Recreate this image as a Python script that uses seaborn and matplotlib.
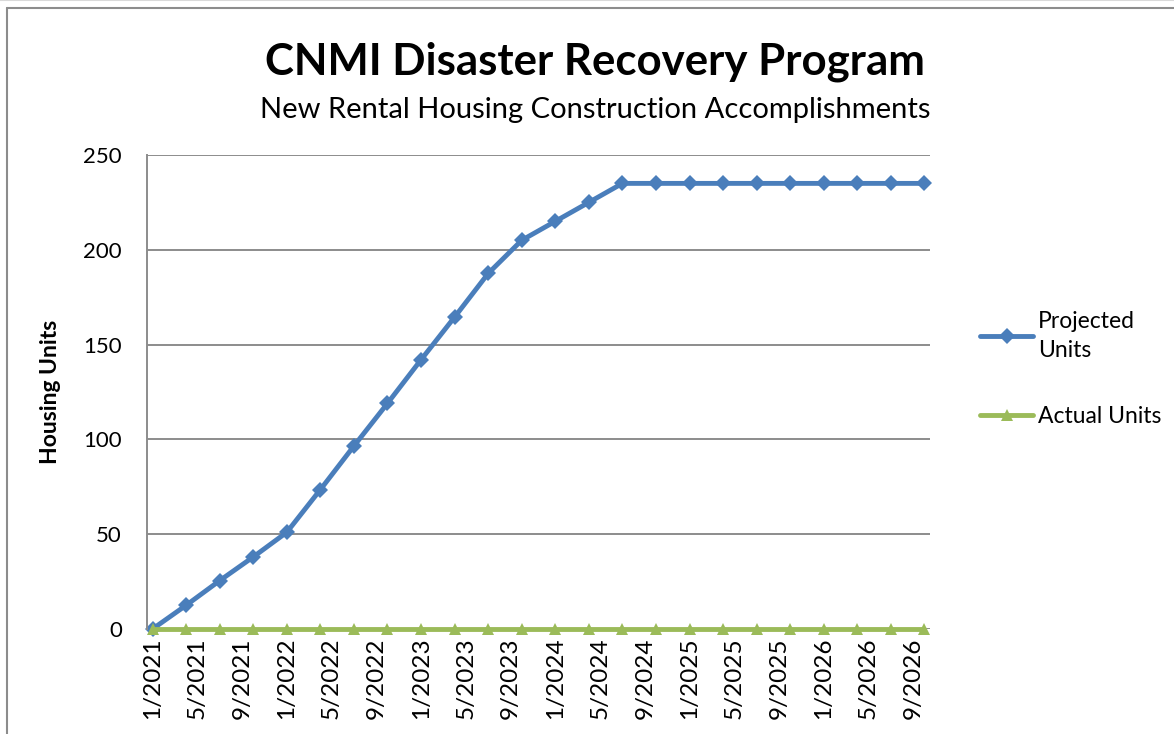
import numpy as np
import pandas as pd
import seaborn as sns
import matplotlib.pyplot as plt
from matplotlib.lines import Line2D

# quarterly observations, month index counted from 1/2021
months = list(range(0, 70, 3))
projected = [0, 12.5, 25.5, 38, 51, 73.5, 96.5, 119, 142, 164.5, 187.5, 205,
             215, 225, 235, 235, 235, 235, 235, 235, 235, 235, 235, 235]
actual = [0] * 24

tick_pos = list(range(0, 69, 4))
tick_labels = ['1/2021', '5/2021', '9/2021', '1/2022', '5/2022', '9/2022',
               '1/2023', '5/2023', '9/2023', '1/2024', '5/2024', '9/2024',
               '1/2025', '5/2025', '9/2025', '1/2026', '5/2026', '9/2026']

df = pd.concat([
    pd.DataFrame({'Month': months, 'Units': projected, 'Series': 'Projected\nUnits'}),
    pd.DataFrame({'Month': months, 'Units': actual, 'Series': 'Actual Units'}),
], ignore_index=True)

sns.set_theme(style='white')
plt.rcParams['font.family'] = ['Lato', 'DejaVu Sans']
plt.rcParams['text.color'] = 'black'
plt.rcParams['xtick.color'] = 'black'
plt.rcParams['ytick.color'] = 'black'
plt.rcParams['axes.labelcolor'] = 'black'

fig = plt.figure(figsize=(11.74, 7.34), dpi=100)
ax = fig.add_axes([0.1252, 0.1431, 0.667, 0.6458])

colors = {'Projected\nUnits': '#4A7EBB', 'Actual Units': '#9BBB59'}
sns.lineplot(data=df, x='Month', y='Units', hue='Series', style='Series',
             palette=colors, markers={'Projected\nUnits': 'D', 'Actual Units': '^'},
             dashes=False, linewidth=3.5, markersize=8, markeredgewidth=0,
             ax=ax, legend=False, clip_on=False)

ax.set_xlim(-0.5, 69.5)
ax.set_ylim(0, 250)
ax.set_yticks([0, 50, 100, 150, 200, 250])
ax.set_xticks(tick_pos)
ax.set_xticklabels(tick_labels, rotation=90)
ax.tick_params(axis='x', labelsize=17.5, pad=6, length=0)
ax.tick_params(axis='y', labelsize=16, pad=18, length=0)
ax.yaxis.grid(True, color='#8c8c8c', linewidth=1.4)
ax.set_axisbelow(True)
for side in ['top', 'right', 'bottom']:
    ax.spines[side].set_visible(False)
ax.spines['left'].set_color('#8c8c8c')
ax.spines['left'].set_linewidth(1.4)

ax.set_xlabel('')
ax.set_ylabel('Housing Units', fontsize=16.5, fontweight='bold', labelpad=16)

fig.text(0.507, 0.916, 'CNMI Disaster Recovery Program', ha='center', va='center',
         fontsize=31.5, fontweight='bold')
fig.text(0.507, 0.850, 'New Rental Housing Construction Accomplishments',
         ha='center', va='center', fontsize=21)

handles = [Line2D([0], [0], color=colors[k], linewidth=3.5, marker=m, markersize=8,
                  markeredgewidth=0) for k, m in zip(colors, ['D', '^'])]
leg = fig.legend(handles, list(colors), loc='center left', bbox_to_anchor=(0.8175, 0.497),
                 frameon=False, fontsize=16.5, handlelength=2.3, handletextpad=0.2,
                 labelspacing=2.0)
for t in leg.get_texts():
    t.set_linespacing(1.45)

# chart frame
fig.add_artist(Line2D([0.006, 1.0], [0.989, 0.989], color='#8c8c8c', linewidth=1.5))
fig.add_artist(Line2D([0.006, 0.006], [0.0, 0.989], color='#8c8c8c', linewidth=1.5))
fig.add_artist(Line2D([0.0, 1.0], [0.9995, 0.9995], color='#d9d9d9', linewidth=1.5))

fig.savefig('out.png', dpi=100)
